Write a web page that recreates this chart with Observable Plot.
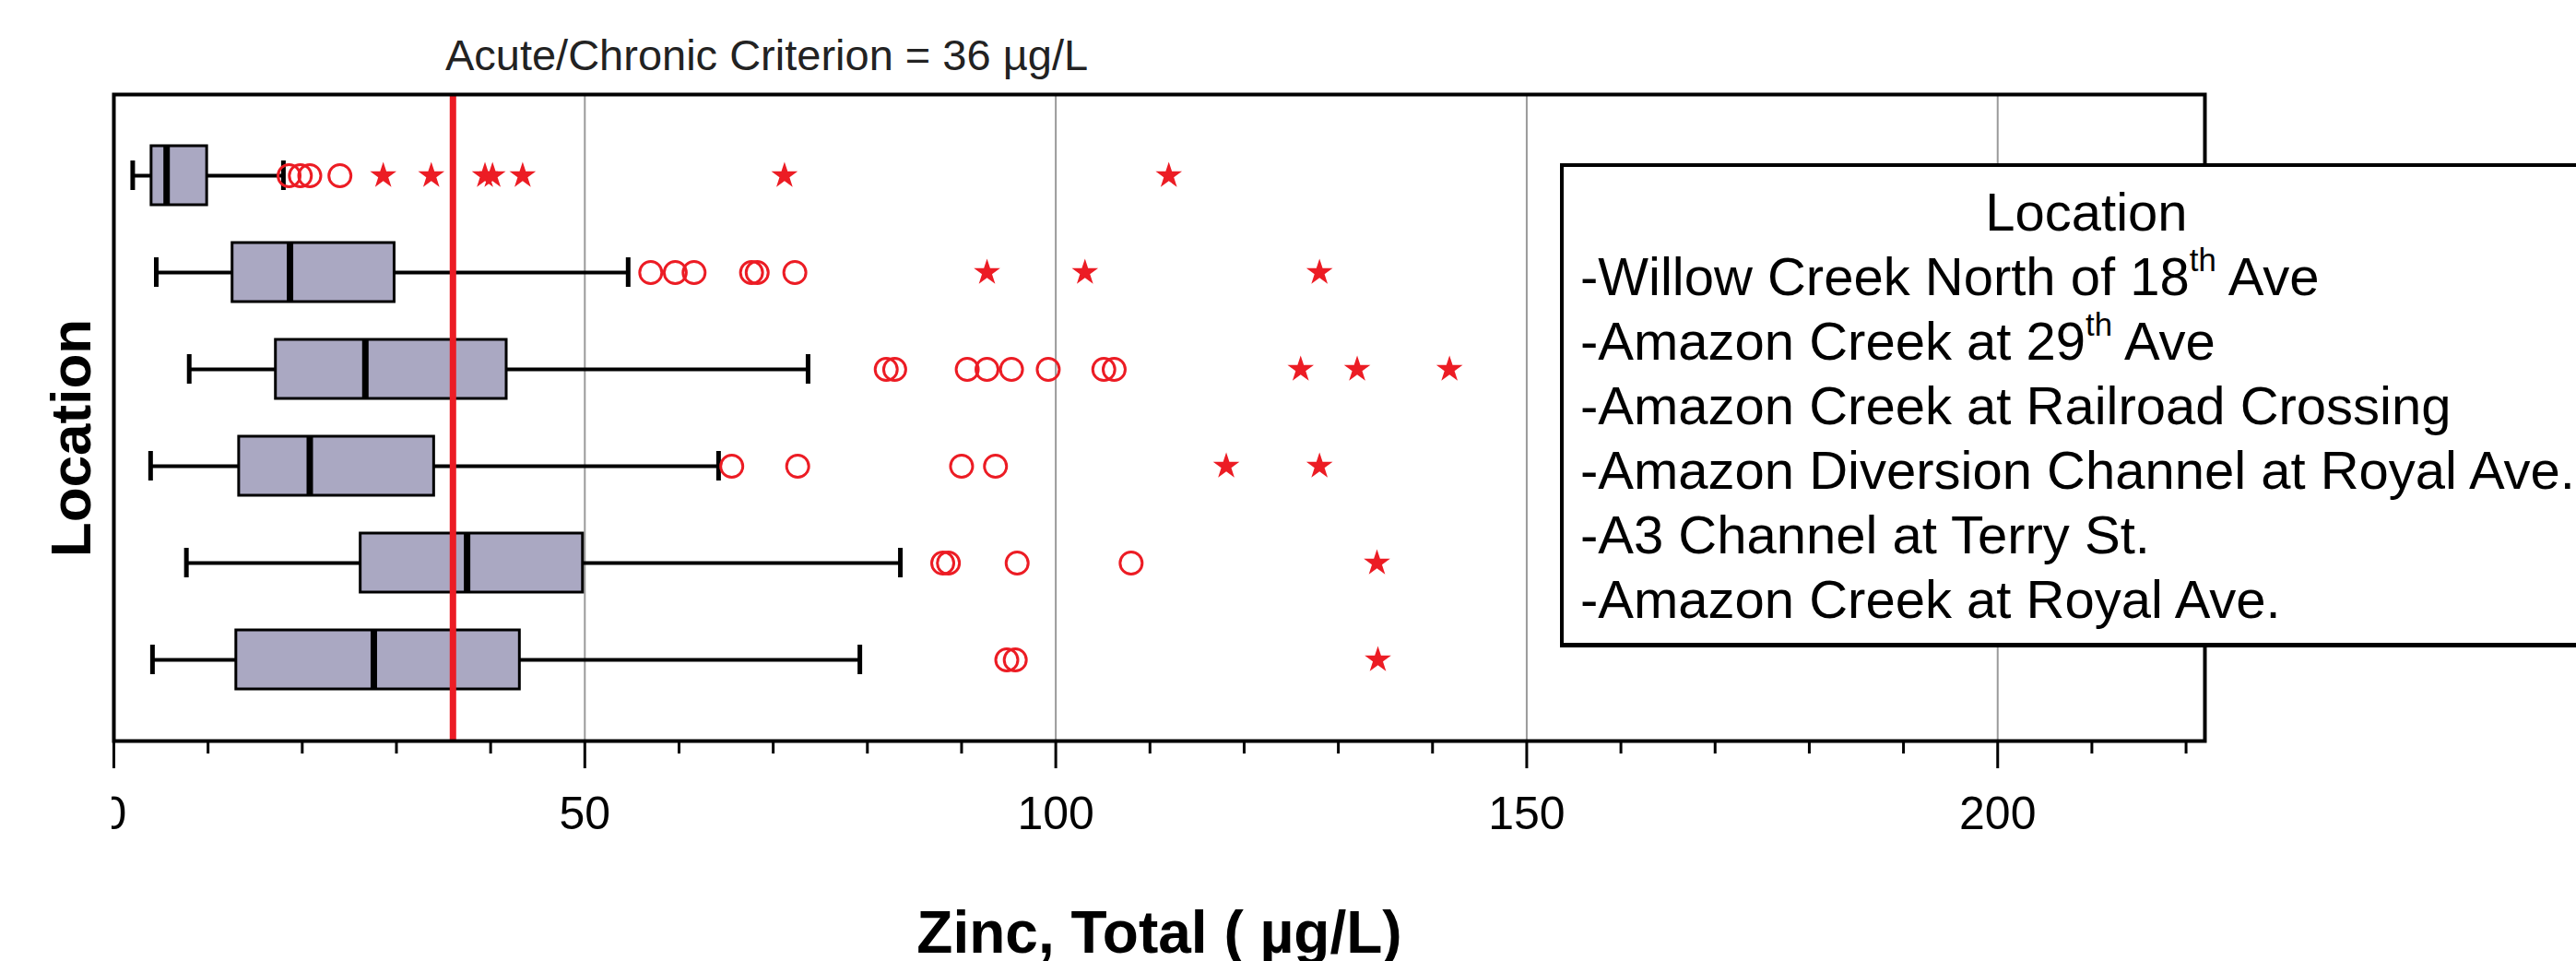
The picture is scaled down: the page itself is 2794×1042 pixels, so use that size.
<!DOCTYPE html>
<html>
<head>
<meta charset="utf-8">
<script src="https://cdn.jsdelivr.net/npm/d3@7"></script>
<script src="https://cdn.jsdelivr.net/npm/@observablehq/plot@0.6"></script>
<style>
  html, body { margin: 0; padding: 0; background: #fff; overflow: hidden; }
  #wrap { position: relative; width: 2794px; height: 1042px; }
  #chart { position: absolute; left: 0; top: 0; }
  #legend {
    position: absolute; left: 1692px; top: 177px; width: 1142px;
    border: 4px solid #000; border-bottom-width: 5px; background: #fff;
    font-family: "Liberation Sans", Arial, sans-serif; font-size: 58px; line-height: 70px; color: #000;
    padding-top: 14px; box-sizing: border-box; height: 525px;
  }
  #legend .head { text-align: center; }
  #legend .item { padding-left: 18px; white-space: nowrap; }
  #legend sup { font-size: 0.6em; line-height: 0; vertical-align: baseline; position: relative; top: -0.75em; }
  #zeromask { position: absolute; left: 0; top: 845px; width: 121px; height: 90px; background: #fff; }
</style>
</head>
<body>
<div id="wrap">
  <div id="chart"></div>
  <div id="zeromask"></div>
  <div id="legend"></div>
</div>
<script>
// ---- data ----
const locations = [
  "Willow Creek North of 18th Ave",
  "Amazon Creek at 29th Ave",
  "Amazon Creek at Railroad Crossing",
  "Amazon Diversion Channel at Royal Ave.",
  "A3 Channel at Terry St.",
  "Amazon Creek at Royal Ave."
];
const legendLabels = [
  "-Willow Creek North of 18<sup>th</sup> Ave",
  "-Amazon Creek at 29<sup>th</sup> Ave",
  "-Amazon Creek at Railroad Crossing",
  "-Amazon Diversion Channel at Royal Ave.",
  "-A3 Channel at Terry St.",
  "-Amazon Creek at Royal Ave."
];
const whiskerLow  = [2.0, 4.5, 8.0, 3.9, 7.7, 4.1];
const q1          = [4.0, 12.6, 17.2, 13.3, 26.2, 13.0];
const median      = [5.6, 18.7, 26.7, 20.8, 37.5, 27.6];
const q3          = [9.9, 29.8, 41.7, 34.0, 49.8, 43.1];
const whiskerHigh = [18.0, 54.6, 73.7, 64.2, 83.5, 79.2];
const outlierCircles = [
  [18.6, 19.8, 20.8, 24.0],
  [57.0, 59.6, 61.6, 67.7, 68.3, 72.3],
  [82.0, 82.9, 90.6, 92.7, 95.3, 99.2, 105.1, 106.2],
  [65.6, 72.6, 90.0, 93.6],
  [88.0, 88.6, 95.9, 108.0],
  [94.8, 95.7]
];
const extremeStars = [
  [28.6, 33.7, 39.4, 40.2, 43.4, 71.2, 112.0],
  [92.7, 103.1, 128.0],
  [126.0, 132.0, 141.8],
  [118.1, 128.0],
  [134.1],
  [134.2]
];
const criterion = 36;
const criterionTitle = "Acute/Chronic Criterion = 36 µg/L";
const xLabel = "Zinc, Total ( µg/L)";
const yLabel = "Location";
const legendTitle = "Location";
const majorTicks = [0, 50, 100, 150, 200];
const minorTicks = [10, 20, 30, 40, 60, 70, 80, 90, 110, 120, 130, 140, 160, 170, 180, 190, 210, 220];
const gridValues = [50, 100, 150, 200];
const xDomain = [0, 222];

// ---- derived tables ----
const stats = locations.map((loc, i) => ({
  loc, lo: whiskerLow[i], q1: q1[i], med: median[i], q3: q3[i], hi: whiskerHigh[i]
}));
const circles = locations.flatMap((loc, i) => outlierCircles[i].map(v => ({loc, v})));
const stars = locations.flatMap((loc, i) => extremeStars[i].map(v => ({loc, v})));

const red = "#ec1c24";
const font = "'Liberation Sans', Arial, sans-serif";

const plot = Plot.plot({
  width: 2794,
  height: 1042,
  marginLeft: 123,
  marginRight: 403,
  marginTop: 102,
  marginBottom: 239,
  style: {fontFamily: font, color: "#000", background: "transparent", overflow: "visible"},
  x: {domain: xDomain},
  y: {type: "band", domain: locations, paddingInner: 0.39, paddingOuter: 0.533, axis: null},
  marks: [
    Plot.ruleX(gridValues, {stroke: "#9a9a9a", strokeWidth: 2}),
    Plot.ruleY(stats, {y: "loc", x1: "lo", x2: "hi", stroke: "#000", strokeWidth: 4}),
    Plot.tickX(stats, {x: "lo", y: "loc", stroke: "#000", strokeWidth: 5, insetTop: 16, insetBottom: 16}),
    Plot.tickX(stats, {x: "hi", y: "loc", stroke: "#000", strokeWidth: 5, insetTop: 16, insetBottom: 16}),
    Plot.barX(stats, {x1: "q1", x2: "q3", y: "loc", fill: "#aaa8c2", stroke: "#000", strokeWidth: 3}),
    Plot.tickX(stats, {x: "med", y: "loc", stroke: "#000", strokeWidth: 7}),
    Plot.ruleX([criterion], {stroke: red, strokeWidth: 7}),
    Plot.dot(circles, {x: "v", y: "loc", r: 12, stroke: red, strokeWidth: 3, fill: "none"}),
    Plot.dot(stars, {x: "v", y: "loc", symbol: "star", r: 9, fill: red, stroke: "none"}),
    Plot.frame({stroke: "#000", strokeWidth: 4}),
    Plot.axisX(majorTicks, {anchor: "bottom", tickSize: 30, tickPadding: 30, strokeWidth: 3, fontSize: 50, label: null}),
    Plot.axisX(minorTicks, {anchor: "bottom", tickSize: 14, strokeWidth: 3, tickFormat: () => "", label: null}),
    Plot.text([criterionTitle], {frameAnchor: "top-left", dx: 708, dy: -27, lineAnchor: "bottom", textAnchor: "middle", fontSize: 47, fill: "#222"}),
    Plot.text([xLabel], {frameAnchor: "bottom", dy: 229, lineAnchor: "bottom", textAnchor: "middle", fontSize: 64, fontWeight: "bold", fill: "#000"}),
    Plot.text([yLabel], {frameAnchor: "left", dx: -26, dy: 22, rotate: -90, lineAnchor: "bottom", textAnchor: "middle", fontSize: 62, fontWeight: "bold", fill: "#000"})
  ]
});
document.getElementById("chart").appendChild(plot);

const legend = document.getElementById("legend");
legend.innerHTML = `<div class="head">${legendTitle}</div>` + legendLabels.map(l => `<div class="item">${l}</div>`).join("");
</script>
</body>
</html>
